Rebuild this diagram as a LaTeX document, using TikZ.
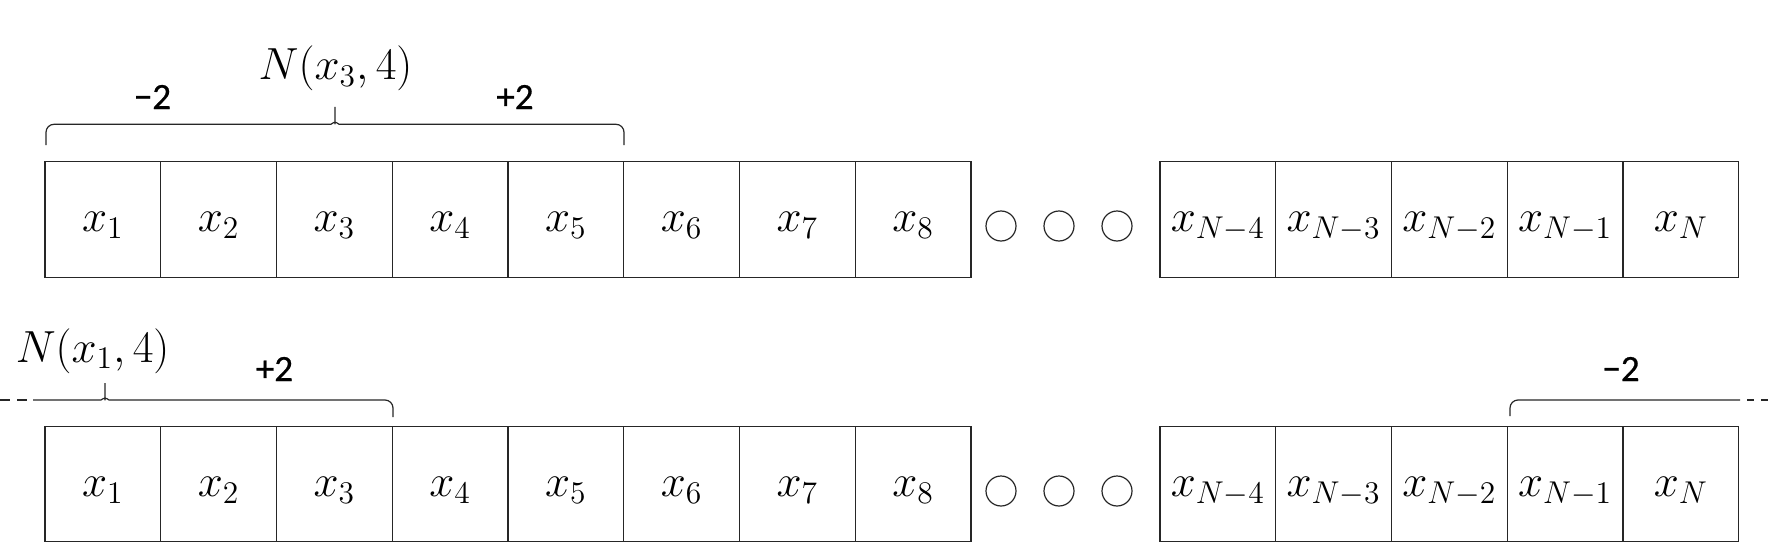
\RequirePackage{fix-cm}
\documentclass[tikz,border=0pt]{standalone}
\usepackage{fontspec}
\newfontfamily\lblfont[FakeBold=0.6]{Carlito}
\begin{document}
\begin{tikzpicture}[x=0.5pt,y=-0.5pt,
  cell/.style={draw=black!85,line width=0.6pt,rectangle,minimum width=57.875pt,minimum height=57.875pt,inner sep=0pt,
    text height=12.3pt,text depth=0pt,font=\fontsize{22.5}{27}\selectfont},
  dotc/.style={draw=black!85,line width=0.6pt,circle,minimum size=15pt,inner sep=0pt},
  brace/.style={draw=black!85,line width=0.6pt},
  mathlbl/.style={inner sep=0pt,font=\fontsize{22.5}{27}\selectfont},
  numlbl/.style={inner sep=0pt,font=\lblfont\fontsize{18.5}{22}\selectfont}]
\useasboundingbox (0,0) rectangle (1771,551);
% row 1
\foreach \i in {1,...,8}
  \node[cell] (a\i) at ({45+115.75*(\i-0.5)},219.25) {$x_{\i}$};
\foreach \lab [count=\j] in {N-4,N-3,N-2,N-1,N}
  \node[cell] (ar\j) at ({1160+115.75*(\j-0.5)},219.25) {$x_{\lab}$};
\foreach \cx [count=\k] in {1001,1059,1117}
  \node[dotc] (ac\k) at (\cx,226) {};
% row 2
\foreach \i in {1,...,8}
  \node[cell] (b\i) at ({45+115.75*(\i-0.5)},484) {$x_{\i}$};
\foreach \lab [count=\j] in {N-4,N-3,N-2,N-1,N}
  \node[cell] (br\j) at ({1160+115.75*(\j-0.5)},484) {$x_{\lab}$};
\foreach \cx [count=\k] in {1001,1059,1117}
  \node[dotc] (bc\k) at (\cx,491) {};
% top brace
\draw[brace,rounded corners=4pt] (46,145) -- (46,124.3) -- (323,124.3)
  .. controls (331,124.3) and (335,121) .. (335,115) -- (335,109.5)
  -- (335,115) .. controls (335,121) and (339,124.3) .. (347,124.3)
  -- (624,124.3) -- (624,145);
\node[mathlbl,anchor=base] (n3) at (335.5,79.5) {$N(x_3,4)$};
\node[numlbl] (tm) at (152.5,97) {−2};
\node[numlbl] (tp) at (515,97) {+2};
% bottom left brace
\draw[brace,dash pattern=on 5pt off 3.5pt] (0,400) -- (33,400);
\draw[brace,rounded corners=4pt] (33,400) -- (93,400)
  .. controls (101,400) and (105,397) .. (105,391) -- (105,385.5)
  -- (105,391) .. controls (105,397) and (109,400) .. (117,400)
  -- (393,400) -- (393,417);
\node[mathlbl,anchor=base] (n1) at (92.6,362) {$N(x_1,4)$};
\node[numlbl] (bp) at (274.5,369) {+2};
% bottom right brace
\draw[brace,rounded corners=4pt] (1510,416) -- (1510,400) -- (1740,400);
\draw[brace,dash pattern=on 3.5pt off 3.5pt,dash phase=3.5pt] (1740,400) -- (1771,400);
\node[numlbl] (bm) at (1621,369) {−2};
\end{tikzpicture}
\end{document}
